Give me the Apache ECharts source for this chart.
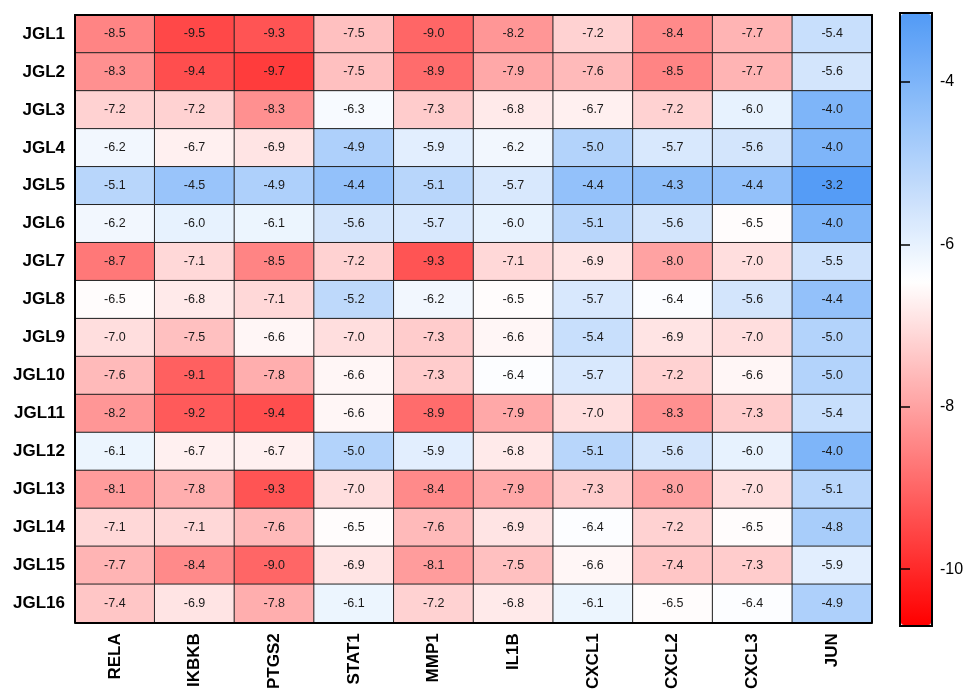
<!DOCTYPE html>
<html>
<head>
<meta charset="utf-8">
<script src="https://cdn.jsdelivr.net/npm/echarts@6/dist/echarts.min.js"></script>
<style>
  html, body { margin: 0; padding: 0; background: #fff; }
  #chart { width: 970px; height: 692px; }
</style>
</head>
<body>
<div id="chart"></div>
<script>
// column genes and row samples
const genes = ['RELA', 'IKBKB', 'PTGS2', 'STAT1', 'MMP1', 'IL1B', 'CXCL1', 'CXCL2', 'CXCL3', 'JUN'];
const samples = ['JGL1', 'JGL2', 'JGL3', 'JGL4', 'JGL5', 'JGL6', 'JGL7', 'JGL8',
                 'JGL9', 'JGL10', 'JGL11', 'JGL12', 'JGL13', 'JGL14', 'JGL15', 'JGL16'];

// one row per sample, values in gene order
const jgl1  = [-8.5, -9.5, -9.3, -7.5, -9.0, -8.2, -7.2, -8.4, -7.7, -5.4];
const jgl2  = [-8.3, -9.4, -9.7, -7.5, -8.9, -7.9, -7.6, -8.5, -7.7, -5.6];
const jgl3  = [-7.2, -7.2, -8.3, -6.3, -7.3, -6.8, -6.7, -7.2, -6.0, -4.0];
const jgl4  = [-6.2, -6.7, -6.9, -4.9, -5.9, -6.2, -5.0, -5.7, -5.6, -4.0];
const jgl5  = [-5.1, -4.5, -4.9, -4.4, -5.1, -5.7, -4.4, -4.3, -4.4, -3.2];
const jgl6  = [-6.2, -6.0, -6.1, -5.6, -5.7, -6.0, -5.1, -5.6, -6.5, -4.0];
const jgl7  = [-8.7, -7.1, -8.5, -7.2, -9.3, -7.1, -6.9, -8.0, -7.0, -5.5];
const jgl8  = [-6.5, -6.8, -7.1, -5.2, -6.2, -6.5, -5.7, -6.4, -5.6, -4.4];
const jgl9  = [-7.0, -7.5, -6.6, -7.0, -7.3, -6.6, -5.4, -6.9, -7.0, -5.0];
const jgl10 = [-7.6, -9.1, -7.8, -6.6, -7.3, -6.4, -5.7, -7.2, -6.6, -5.0];
const jgl11 = [-8.2, -9.2, -9.4, -6.6, -8.9, -7.9, -7.0, -8.3, -7.3, -5.4];
const jgl12 = [-6.1, -6.7, -6.7, -5.0, -5.9, -6.8, -5.1, -5.6, -6.0, -4.0];
const jgl13 = [-8.1, -7.8, -9.3, -7.0, -8.4, -7.9, -7.3, -8.0, -7.0, -5.1];
const jgl14 = [-7.1, -7.1, -7.6, -6.5, -7.6, -6.9, -6.4, -7.2, -6.5, -4.8];
const jgl15 = [-7.7, -8.4, -9.0, -6.9, -8.1, -7.5, -6.6, -7.4, -7.3, -5.9];
const jgl16 = [-7.4, -6.9, -7.8, -6.1, -7.2, -6.8, -6.1, -6.5, -6.4, -4.9];

const rows = [jgl1, jgl2, jgl3, jgl4, jgl5, jgl6, jgl7, jgl8,
              jgl9, jgl10, jgl11, jgl12, jgl13, jgl14, jgl15, jgl16];

const scaleMin = -10.7;
const scaleMax = -3.15;
const scaleTicks = [-10, -8, -6, -4];

const heatData = [];
rows.forEach((r, i) => {
    r.forEach((v, j) => heatData.push([j, i, v]));
});

// red -> white -> blue, white sits at 9/16 of the range
function mix(a, b, t) {
    const c = a.map((x, k) => Math.round(x + (b[k] - x) * t));
    return 'rgb(' + c.join(',') + ')';
}
const red = [255, 0, 0], white = [255, 255, 255], blue = [82, 155, 246];
const stops = [];
for (let k = 0; k <= 9; k++) stops.push(mix(red, white, k / 9));
for (let k = 1; k <= 7; k++) stops.push(mix(white, blue, k / 7));

const FONT = 'Arial, "Liberation Sans", sans-serif';

const chart = echarts.init(document.getElementById('chart'));
chart.setOption({
    backgroundColor: '#fff',
    animation: false,
    grid: [
        { left: 75, top: 15, width: 797, height: 610 },
        { left: 900, top: 13, width: 32, height: 613, show: true, borderColor: '#000', borderWidth: 2, backgroundColor: 'transparent' }
    ],
    xAxis: [{
        type: 'category',
        gridIndex: 0,
        data: genes,
        z: 3,
        axisLine: { lineStyle: { color: '#000', width: 2 } },
        axisTick: { alignWithLabel: true, length: 6, lineStyle: { color: '#000', width: 1.5 } },
        axisLabel: {
            rotate: 90, margin: 11, color: '#000', fontSize: 17, fontWeight: 'bold', fontFamily: FONT
        },
        splitLine: { show: false }
    }, {
        type: 'category',
        gridIndex: 0,
        position: 'top',
        data: genes,
        z: 3,
        axisLine: { lineStyle: { color: '#000', width: 2 } },
        axisTick: { show: false },
        axisLabel: { show: false }
    }, {
        type: 'value',
        gridIndex: 1,
        min: 0,
        max: 1,
        show: false
    }],
    yAxis: [{
        type: 'category',
        gridIndex: 0,
        data: samples,
        inverse: true,
        z: 3,
        axisLine: { lineStyle: { color: '#000', width: 2 } },
        axisTick: { alignWithLabel: true, length: 6, lineStyle: { color: '#000', width: 1.5 } },
        axisLabel: { margin: 10, color: '#000', fontSize: 17, fontWeight: 'bold', fontFamily: FONT },
        splitLine: { show: false }
    }, {
        type: 'category',
        gridIndex: 0,
        position: 'right',
        data: samples,
        inverse: true,
        z: 3,
        axisLine: { lineStyle: { color: '#000', width: 2 } },
        axisTick: { show: false },
        axisLabel: { show: false }
    }, {
        // colour bar scale, shifted inwards so its ticks sit on the bar
        type: 'value',
        gridIndex: 1,
        position: 'right',
        offset: -5,
        min: scaleMin,
        max: scaleMax,
        zlevel: 1,
        axisLine: { show: false },
        axisTick: { show: true, length: 5, customValues: scaleTicks, lineStyle: { color: '#000', width: 1.5 } },
        axisLabel: { customValues: scaleTicks, margin: 13, color: '#000', fontSize: 16, fontFamily: FONT },
        splitLine: { show: false }
    }, {
        type: 'value',
        gridIndex: 1,
        position: 'left',
        offset: -5,
        min: scaleMin,
        max: scaleMax,
        zlevel: 1,
        axisLine: { show: false },
        axisTick: { show: true, length: 5, customValues: scaleTicks, lineStyle: { color: '#000', width: 1.5 } },
        axisLabel: { show: false },
        splitLine: { show: false }
    }],
    visualMap: {
        type: 'continuous',
        seriesIndex: 0,
        dimension: 2,
        min: scaleMin,
        max: scaleMax,
        calculable: false,
        hoverLink: false,
        orient: 'vertical',
        left: 901,
        top: 14,
        padding: 0,
        itemWidth: 30,
        itemHeight: 611,
        text: null,
        showLabel: false,
        inRange: { color: stops }
    },
    series: [{
        type: 'heatmap',
        xAxisIndex: 0,
        yAxisIndex: 0,
        data: heatData,
        itemStyle: { borderColor: '#222', borderWidth: 1 },
        label: {
            show: true,
            color: '#1a1a1a',
            fontSize: 12.5,
            fontFamily: FONT,
            formatter: p => p.value[2].toFixed(1)
        },
        emphasis: { disabled: true }
    }]
});
</script>
</body>
</html>
